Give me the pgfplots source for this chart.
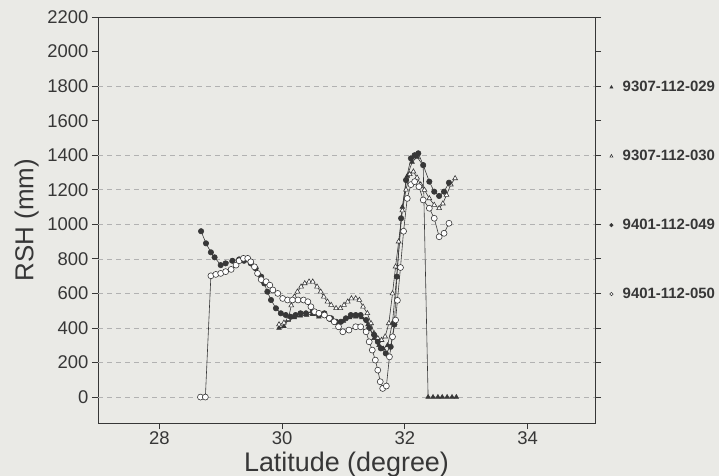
\documentclass[border=0pt]{standalone}
\usepackage{pgfplots}
\pgfplotsset{compat=1.18}
\usepackage{fontspec}
\setmainfont{Liberation Sans}
\definecolor{bgcol}{RGB}{234,234,230}
\definecolor{ink}{RGB}{55,55,55}
\begin{document}
\begin{tikzpicture}
\fill[bgcol] (0,0) rectangle (719bp,476bp);
\begin{axis}[
  at={(98bp,53bp)}, anchor=south west,
  scale only axis, width=497bp, height=406bp,
  xmin=27, xmax=35.1, ymin=-150, ymax=2200,
  xtick={28,30,32,34}, ytick={0,200,...,2200},
  xtick pos=lower, ytick pos=both, yticklabel pos=left,
  tick align=outside, major tick length=6bp,
  axis line style={ink, line width=0.9pt},
  every tick/.style={ink, line width=0.8pt},
  /pgf/number format/assume math mode=true,
  /pgf/number format/1000 sep={},
  tick label style={font=\fontsize{18.5}{19}\selectfont, text=ink},
  xticklabel style={yshift=1bp},
  xlabel={Latitude (degree)}, ylabel={RSH (mm)},
  xlabel style={font=\fontsize{27}{28}\selectfont, text=ink, yshift=-1bp},
  ylabel style={font=\fontsize{26}{28}\selectfont, text=ink, yshift=-4bp},
  extra y ticks={0,200,400,600,800,1000,1200,1400,1800},
  extra y tick labels={},
  extra y tick style={grid=major, major tick length=0pt, grid style={gray!60, dashed, dash pattern=on 5bp off 4bp, line width=0.6pt}},
  clip=false,
  legend style={at={(axis description cs:1.022,0.847)}, anchor=north west, draw=none, fill=none,
    font=\fontsize{15}{16}\selectfont\bfseries, text=ink, row sep=53bp, inner sep=0pt,
    nodes={inner sep=2bp}},
  legend cell align=left,
  legend image code/.code={\path (0bp,0bp) (14bp,0bp); \draw[#1, only marks, mark size=1.7pt] plot coordinates {(5bp,0bp)};},
  every axis plot/.append style={ink, line width=0.6pt},
]
% 9307-112-029 filled triangles
\addplot[mark=triangle*, mark size=2.6pt, mark options={fill=ink, solid}] coordinates {
(29.95,400) (30.03,410) (30.10,446) (30.20,460) (30.30,470) (30.40,475) (30.50,480) (30.60,465)
(30.70,470) (30.80,445) (30.90,430) (31.00,440) (31.10,460) (31.20,465) (31.30,460) (31.40,420)
(31.50,340) (31.58,300) (31.65,280) (31.72,300) (31.80,430) (31.88,750) (31.96,1100) (32.04,1280)
(32.12,1360) (32.20,1390) (32.30,1340) (32.38,0) (32.46,0) (32.54,0) (32.61,0) (32.69,0) (32.77,0) (32.84,0)};
\addlegendentry{9307-112-029}
% 9307-112-030 open triangles
\addplot[mark=triangle*, mark size=2.8pt, mark options={fill=white, solid}] coordinates {
(29.95,420) (30.03,430) (30.10,450) (30.15,530) (30.20,581) (30.25,610) (30.31,639) (30.37,658)
(30.44,668) (30.50,668) (30.57,639) (30.63,610) (30.68,581) (30.74,552) (30.80,533) (30.88,514)
(30.95,514) (31.01,533) (31.07,552) (31.13,571) (31.20,571) (31.26,562) (31.32,523) (31.39,485)
(31.45,427) (31.50,369) (31.56,340) (31.62,330) (31.68,350) (31.74,427) (31.80,600) (31.85,755)
(31.90,900) (31.96,1080) (32.02,1200) (32.08,1290) (32.14,1305) (32.20,1270) (32.26,1230) (32.32,1199)
(32.40,1150) (32.48,1112) (32.56,1093) (32.62,1120) (32.68,1170) (32.75,1230) (32.82,1266)};
\addlegendentry{9307-112-030}
% 9401-112-049 filled circles
\addplot[mark=*, mark size=2.7pt, mark options={fill=ink, solid}] coordinates {
(28.68,960) (28.76,890) (28.84,838) (28.90,809) (29.00,764) (29.08,774) (29.19,789) (29.30,797)
(29.38,789) (29.49,774) (29.57,745) (29.66,697) (29.71,658) (29.76,610) (29.82,562) (29.90,514)
(29.98,485) (30.06,475) (30.14,465) (30.22,475) (30.30,485) (30.39,485) (30.50,494) (30.60,475)
(30.69,485) (30.80,456) (30.88,436) (30.96,436) (31.04,456) (31.12,475) (31.20,475) (31.28,475)
(31.37,446) (31.42,400) (31.50,360) (31.56,320) (31.61,282) (31.69,253) (31.77,291) (31.83,420)
(31.87,697) (31.94,1035) (32.02,1256) (32.10,1382) (32.16,1400) (32.22,1411) (32.30,1343) (32.40,1247)
(32.48,1189) (32.56,1164) (32.64,1189) (32.72,1241)};
\addlegendentry{9401-112-049}
% 9401-112-050 open circles
\addplot[mark=*, mark size=3pt, mark options={fill=white, solid}] coordinates {
(28.67,0) (28.75,0) (28.84,702) (28.92,710) (29.00,716) (29.08,726) (29.17,739) (29.25,764)
(29.30,789) (29.37,803) (29.44,803) (29.49,783) (29.55,754) (29.60,716) (29.66,680) (29.74,668)
(29.80,648) (29.85,620) (29.93,600) (30.01,571) (30.09,562) (30.17,562) (30.26,562) (30.35,562)
(30.42,552) (30.47,523) (30.53,494) (30.60,485) (30.69,475) (30.77,456) (30.85,436) (30.92,407)
(30.99,378) (31.09,388) (31.20,407) (31.28,407) (31.37,378) (31.42,320) (31.47,272) (31.52,214)
(31.56,156) (31.60,89) (31.64,50) (31.70,64) (31.75,233) (31.80,349) (31.85,446) (31.88,560)
(31.93,750) (31.98,960) (32.04,1150) (32.10,1230) (32.16,1247) (32.23,1218) (32.30,1141) (32.40,1093)
(32.48,1035) (32.56,928) (32.64,948) (32.72,1006)};
\addlegendentry{9401-112-050}
\end{axis}
\pgfresetboundingbox
\useasboundingbox (0,0) rectangle (719bp,476bp);
\end{tikzpicture}
\end{document}
